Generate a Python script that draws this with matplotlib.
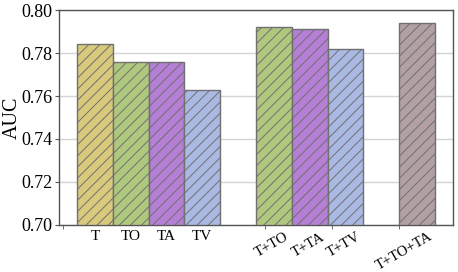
import matplotlib
matplotlib.use("Agg")
import matplotlib.pyplot as plt
import numpy as np

categories = ["T", "TO", "TA", "TV", "T+TO", "T+TA", "T+TV", "T+TO+TA"]
positions = [0, 1, 2, 3, 5, 6, 7, 9]
auc = [0.784, 0.776, 0.776, 0.763, 0.792, 0.791, 0.782, 0.794]
colors = ["#d8c97c", "#b0c87e", "#b47fd5", "#a9b9e2",
          "#b0c87e", "#b47fd5", "#a9b9e2", "#b2a0a5"]
yticks = [0.70, 0.72, 0.74, 0.76, 0.78, 0.80]

plt.rcParams["font.family"] = ["Liberation Serif", "DejaVu Serif"]
plt.rcParams["hatch.color"] = "#8a8a8a"
plt.rcParams["hatch.linewidth"] = 0.7

fig = plt.figure(figsize=(4.58, 2.72), dpi=100)
ax = fig.add_axes([0.129, 0.173, 0.860, 0.790])

ax.bar(positions, [v - 0.70 for v in auc], bottom=0.70, width=1.0,
       color=colors, edgecolor="#707070", linewidth=1.0, hatch="///", zorder=3)

ax.set_ylim(0.70, 0.80)
ax.set_xlim(-1, 10)
ax.set_yticks(yticks)
ax.set_yticklabels([f"{t:.2f}" for t in yticks], fontsize=13)
ax.yaxis.grid(True, color="#d4d4d4", linewidth=1.0, zorder=0)
ax.set_axisbelow(True)
ax.set_ylabel("AUC", fontsize=14.5)
ax.yaxis.set_label_coords(-0.095, 0.5)

ax.set_xticks(positions)
ax.set_xticklabels([])
ax.tick_params(axis="x", length=0)
ax.set_xticks([-0.89, 4.75, 6.62, 8.49], minor=True)
ax.tick_params(axis="x", which="minor", length=3, color="#555555")
ax.tick_params(axis="y", length=3, color="#555555", pad=2)

trans = ax.get_xaxis_transform()
for p, c in zip(positions[:4], categories[:4]):
    ax.text(p, -0.025, c, transform=trans, ha="center", va="top", fontsize=11)
for p, c in zip(positions[4:], categories[4:]):
    ax.text(p + 0.3, -0.025, c, transform=trans, ha="right", va="top",
            fontsize=10.5, rotation=30, rotation_mode="anchor")

for s in ax.spines.values():
    s.set_color("#555555")
    s.set_linewidth(1.0)

fig.savefig("out.png", dpi=100)
